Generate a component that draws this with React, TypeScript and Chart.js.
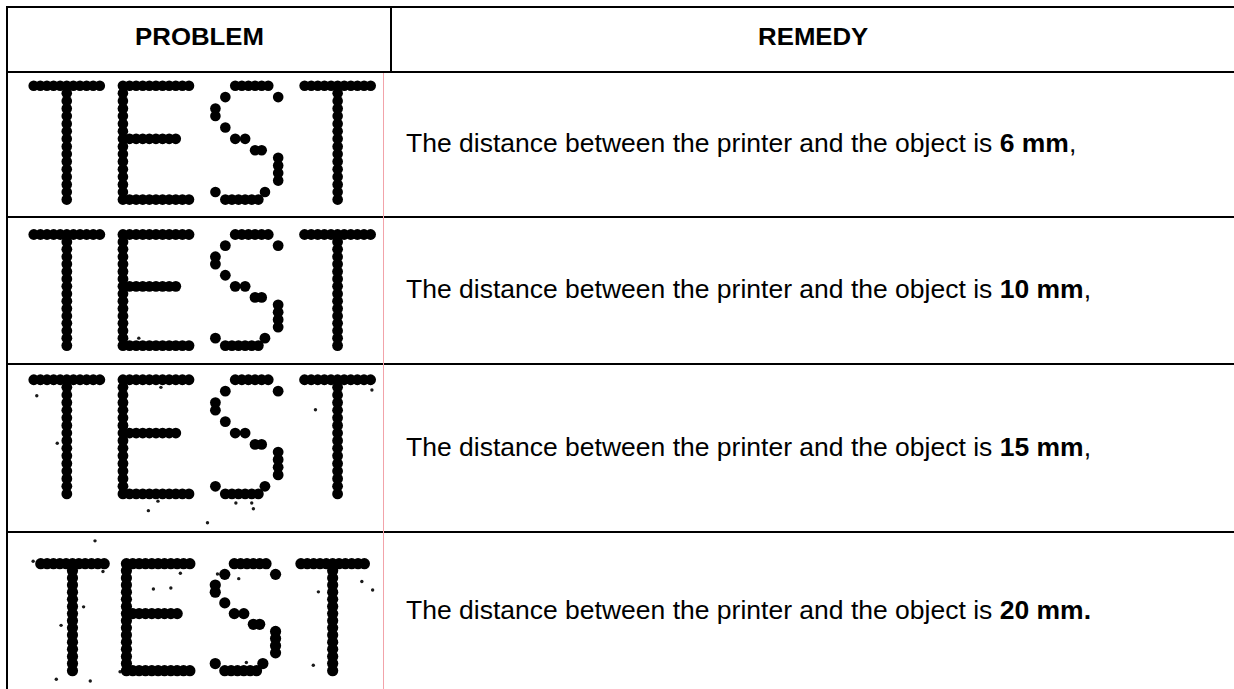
import React, { useEffect, useRef } from "react";
import { Chart, registerables } from "chart.js";

Chart.register(...registerables);

// ---------------- data ----------------
const headerLabels = ["PROBLEM", "REMEDY"];
const remedyText = "The distance between the printer and the object is ";
const distanceLabels = ["6 mm", "10 mm", "15 mm", "20 mm."];
const trailingText = [",", ",", ",", ""];

// printed word, letter by letter, and the dot-matrix column where each letter starts
const letterNames = ["T", "E", "S", "T"];
const letterStartCols = [0, 27, 55, 82];

// dot-matrix glyphs: one string per matrix row (31 rows), "o" = printed dot
const glyphT = [
  "o.o.o.o.o.o.o.o.o.o.o",
  "",
  "..........o",
  "",
  "..........o",
  "",
  "..........o",
  "",
  "..........o",
  "",
  "..........o",
  "",
  "..........o",
  "",
  "..........o",
  "",
  "..........o",
  "",
  "..........o",
  "",
  "..........o",
  "",
  "..........o",
  "",
  "..........o",
  "",
  "..........o",
  "",
  "..........o",
  "",
  "..........o",
];

const glyphE = [
  "o.o.o.o.o.o.o.o.o.o.o",
  "",
  "o",
  "",
  "o",
  "",
  "o",
  "",
  "o",
  "",
  "o",
  "",
  "o",
  "",
  "o.o.o.o.o.o.o.o.o",
  "",
  "o",
  "",
  "o",
  "",
  "o",
  "",
  "o",
  "",
  "o",
  "",
  "o",
  "",
  "o",
  "",
  "o.o.o.o.o.o.o.o.o.o.o",
];

const glyphS = [
  "......o.o.o.o.o.o",
  "",
  "",
  "...o...............o",
  "",
  "",
  "o",
  "",
  "o",
  "",
  "",
  "...o",
  "",
  "",
  "......o..o",
  "",
  "",
  "............o.o",
  "",
  "...................o",
  "",
  "...................o",
  "",
  "...................o",
  "",
  "...................o",
  "",
  "",
  "o..............o",
  "",
  "...o.o.o.o.o.o",
];

const glyphs: Record<string, string[]> = { T: glyphT, E: glyphE, S: glyphS };

// stray ink specks per row, in matrix [column, row] units
const specksRow1: [number, number][] = [];
const specksRow2: [number, number][] = [[31.8, 28]];
const specksRow3: [number, number][] = [
  [0.9, 4.2], [7.1, 16.7], [38.5, 2], [85.3, 7.9], [102.4, 2.7], [37.6, 31.9],
  [34.7, 34.4], [61.2, 32.4], [66, 32.4], [52.6, 37.6], [66.5, 33.9],
];
const specksRow4: [number, number][] = [
  [17.1, -6.4], [-2.4, -0.7], [19.6, 2.2], [44, 2.7], [35.5, 7.1], [41, 6.8],
  [55.7, 2.9], [62.4, 4.2], [71.6, 1.1], [101.2, 5], [87.5, 7.9], [104.6, 7.4],
  [13.5, 12.1], [6.4, 17.3], [25, 30.3], [42.5, 29], [64.8, 27.7], [85.9, 28.5],
  [4.9, 32.4], [15.6, 32.9],
];
const specksByRow = [specksRow1, specksRow2, specksRow3, specksRow4];

// ---------------- layout (not data) ----------------
const FONT = '"Liberation Sans", Arial, Helvetica, sans-serif';
const rowLayout = [
  { top: 73, height: 143, xMin: -6.18, xMax: 104.12, yMin: -1.95, yMax: 32.93, dot: 5.3 },
  { top: 218, height: 145, xMin: -6.18, xMax: 104.12, yMin: -3, yMax: 33.25, dot: 5.4 },
  { top: 365, height: 166, xMin: -6.18, xMax: 104.12, yMin: -2.46, yMax: 38.33, dot: 5.4 },
  { top: 533, height: 157, xMin: -8.56, xMax: 106.1, yMin: -7.03, yMax: 33.85, dot: 5.6 },
];
const hLines = [6, 71, 216, 363, 531];

function glyphPoints() {
  const pts: { x: number; y: number }[] = [];
  letterNames.forEach((name, i) => {
    const g = glyphs[name];
    g.forEach((rowStr, r) => {
      for (let c = 0; c < rowStr.length; c++) {
        if (rowStr[c] === "o") pts.push({ x: letterStartCols[i] + c, y: r });
      }
    });
  });
  return pts;
}

function PrintSample({ idx }: { idx: number }) {
  const ref = useRef<HTMLCanvasElement | null>(null);
  const lay = rowLayout[idx];
  useEffect(() => {
    if (!ref.current) return;
    const chart = new Chart(ref.current, {
      type: "scatter",
      data: {
        datasets: [
          {
            data: glyphPoints(),
            pointRadius: lay.dot,
            pointHoverRadius: lay.dot,
            pointBackgroundColor: "#000",
            pointBorderWidth: 0,
            backgroundColor: "#000",
          },
          {
            data: specksByRow[idx].map(([x, y]) => ({ x, y })),
            pointRadius: 1.7,
            pointHoverRadius: 1.7,
            pointBackgroundColor: "#1a1a1a",
            pointBorderWidth: 0,
            backgroundColor: "#1a1a1a",
          },
        ],
      },
      options: {
        animation: false,
        responsive: false,
        maintainAspectRatio: false,
        devicePixelRatio: 1,
        events: [],
        layout: { padding: 0 },
        plugins: { legend: { display: false }, tooltip: { enabled: false } },
        scales: {
          x: { type: "linear", display: false, min: lay.xMin, max: lay.xMax },
          y: { type: "linear", display: false, min: lay.yMin, max: lay.yMax, reverse: true },
        },
      },
    } as any);
    return () => chart.destroy();
  }, [idx]);
  return (
    <canvas
      ref={ref}
      width={375}
      height={lay.height}
      style={{ position: "absolute", left: 8, top: lay.top, width: 375, height: lay.height }}
    />
  );
}

export default function App() {
  return (
    <div
      style={{
        position: "absolute",
        left: 0,
        top: 0,
        width: 1234,
        height: 689,
        overflow: "hidden",
        background: "#fff",
        fontFamily: FONT,
        color: "#000",
      }}
    >
      {/* header texts */}
      <div style={{ position: "absolute", left: 8, top: 6, width: 382, height: 63, display: "flex", alignItems: "center", justifyContent: "center" }}>
        <span style={{ fontWeight: "bold", fontSize: 23, transform: "scaleX(1.12)", whiteSpace: "nowrap" }}>{headerLabels[0]}</span>
      </div>
      <div style={{ position: "absolute", left: 392, top: 6, width: 842, height: 63, display: "flex", alignItems: "center", justifyContent: "center" }}>
        <span style={{ fontWeight: "bold", fontSize: 23, transform: "scaleX(1.12)", whiteSpace: "nowrap" }}>{headerLabels[1]}</span>
      </div>

      {/* print samples */}
      {rowLayout.map((_, i) => (
        <PrintSample key={"p" + i} idx={i} />
      ))}

      {/* remedy texts */}
      {rowLayout.map((lay, i) => (
        <div key={"t" + i} style={{ position: "absolute", left: 406, top: lay.top, height: lay.height - 2, display: "flex", alignItems: "center" }}>
          <span style={{ fontSize: 25, transform: "scaleX(1.06)", transformOrigin: "left center", whiteSpace: "nowrap" }}>
            {remedyText}
            <b>{distanceLabels[i]}</b>
            {trailingText[i]}
          </span>
        </div>
      ))}

      {/* rules */}
      {hLines.map((y) => (
        <div key={"h" + y} style={{ position: "absolute", left: 6, top: y, width: 1228, height: 2, background: "#000" }} />
      ))}
      <div style={{ position: "absolute", left: 6, top: 6, width: 2, height: 683, background: "#000" }} />
      <div style={{ position: "absolute", left: 390, top: 6, width: 2, height: 67, background: "#000" }} />
      <div style={{ position: "absolute", left: 383, top: 73, width: 1, height: 616, background: "#f2a3aa" }} />
    </div>
  );
}
